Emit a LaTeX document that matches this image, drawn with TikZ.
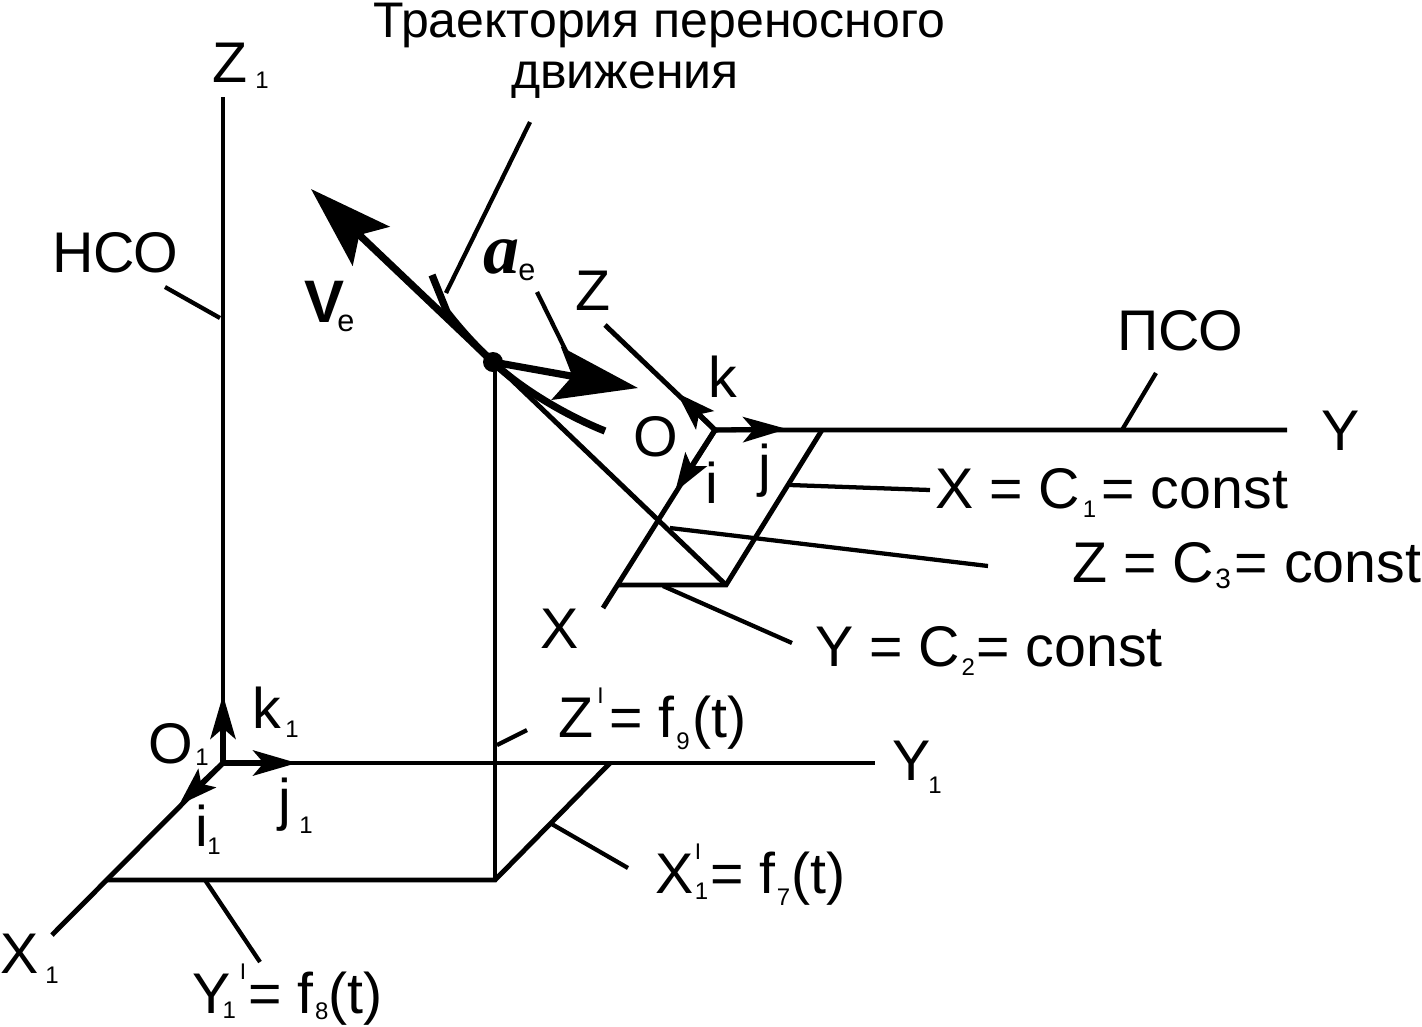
\documentclass[tikz,border=0pt]{standalone}
\usepackage{fontspec}
\setmainfont{Liberation Sans}
\newfontfamily\serifbi{Liberation Serif}
\usetikzlibrary{arrows.meta}
\newcommand{\Sb}[2][7pt]{\raisebox{-#1}{\fontsize{18}{18}\selectfont #2}}
\newcommand{\Pm}{\raisebox{25pt}{\fontsize{17}{17}\selectfont I}}
\tikzset{
  px/.style={x=0.75pt,y=-0.75pt},
  axis/.style={line width=3.7pt,line cap=butt,line join=miter},
  leader/.style={line width=3.2pt},
  big/.style={inner sep=0pt,anchor=base west,font=\fontsize{43}{43}\selectfont},
  captxt/.style={inner sep=0pt,anchor=base west,font=\fontsize{37.5}{37.5}\selectfont},
  sm/.style={inner sep=0pt,anchor=base west,font=\fontsize{18}{18}\selectfont},
  ee/.style={inner sep=0pt,anchor=base west,font=\fontsize{23}{23}\selectfont},
  unit/.style={-{Stealth[length=33pt,width=19pt,inset=8pt]},line width=3.8pt},
  uniths/.style={-{Stealth[length=29pt,width=19pt,inset=6pt]},line width=4pt},
  bigv/.style={-{Stealth[length=62pt,width=40pt,inset=12pt]},line width=5.4pt},
}
\begin{document}
\begin{tikzpicture}[px]
\useasboundingbox (0,0) rectangle (1422,1026);
% coordinates
\coordinate (O1) at (223,763);
\coordinate (Z1e) at (223,97);
\coordinate (Y1e) at (875,763);
\coordinate (X1e) at (52,935);
\coordinate (P1) at (107,880);
\coordinate (P2) at (495,880);
\coordinate (P3) at (610,763);
\coordinate (M) at (493,362);
\coordinate (Mv) at (495,362);
\coordinate (O) at (715,430);
\coordinate (Ye) at (1287,430);
\coordinate (Ze) at (605,325);
\coordinate (Xe) at (603,608);
\coordinate (Q1) at (822,430);
\coordinate (Q2) at (726,585);
\coordinate (Q3) at (618,585);
\coordinate (k1t) at (223,695);
\coordinate (j1t) at (297,763);
\coordinate (i1t) at (179,805);
\coordinate (kt) at (677,393);
\coordinate (it) at (675,492);
\coordinate (jt) at (787,429);
\coordinate (vt) at (311,189);
\coordinate (at) at (638,388);
% axes
\draw[axis] (Z1e) -- (O1) -- (Y1e);
\draw[axis] (O1) -- (X1e);
\draw[axis] (P1) -- (P2) -- (P3);
\draw[axis] (P2) -- (Mv);
\draw[axis] (Ze) -- (O) -- (Ye);
\draw[axis] (O) -- (Xe);
\draw[axis] (Q1) -- (Q2) -- (Q3);
\draw[axis] (Q2) -- (M);
% unit vectors
\draw[unit] (O1) -- (k1t);
\draw[unit] (O1) -- (j1t);
\draw[uniths] (O1) -- (i1t);
\draw[uniths] (O) -- (kt);
\draw[uniths] (O) -- (it);
\draw[unit] (O) -- (jt);
% trajectory
\coordinate (Ta) at (432,275);
\coordinate (Tb) at (605,431);
\draw[line width=5.5pt] (Ta) -- (447,312) .. controls (465,335) and (480,350) .. (M)
   .. controls (520,388) and (565,415) .. (Tb);
% velocity and acceleration
\draw[bigv] (M) -- (vt);
\draw[bigv] (M) -- (at);
\fill (M) circle (10);
% leaders
\coordinate (La) at (530,122); \coordinate (Lb) at (446,293);
\draw[leader] (La) -- (Lb);
\coordinate (Lc) at (537,292); \coordinate (Ld) at (568,355);
\draw[leader] (Lc) -- (Ld);
\coordinate (H1) at (165,287); \coordinate (H2) at (220,318);
\draw[leader] (H1) -- (H2);
\coordinate (S1) at (1122,430); \coordinate (S2) at (1156,373);
\draw[leader] (S1) -- (S2);
\coordinate (A1) at (790,485); \coordinate (A2) at (930,490);
\draw[leader] (A1) -- (A2);
\coordinate (B1) at (670,528); \coordinate (B2) at (988,566);
\draw[leader] (B1) -- (B2);
\coordinate (C1) at (663,586); \coordinate (C2) at (792,643);
\draw[leader] (C1) -- (C2);
\coordinate (D1) at (497,745); \coordinate (D2) at (527,730);
\draw[leader] (D1) -- (D2);
\coordinate (E1) at (550,823); \coordinate (E2) at (628,868);
\draw[leader] (E1) -- (E2);
\coordinate (F1) at (205,880); \coordinate (F2) at (260,962);
\draw[leader] (F1) -- (F2);
% texts
\node[captxt] (t1) at (373,37) {Траектория переносного};
\node[captxt] (t2) at (511,88) {движения};
\node[big] (tZ1) at (212,82) {Z};
\node[sm] (tZ1s) at (255,88) {1};
\node[big] (tNSO) at (52,272) {НСО};
\node[big] (tPSO) at (1117,350) {ПСО};
\node[big,font=\fontsize{45}{45}\selectfont] (tV) at (304,322) {\textbf{V}};
\node[ee] (tVe) at (337,331) {e};
\node[big,font=\fontsize{54}{54}\selectfont] (tA) at (483,273) {\serifbi\bfseries\itshape a};
\node[ee] (tAe) at (518,280) {e};
\node[big] (tZ) at (575,310) {Z};
\node[big] (tk) at (708,397) {k};
\node[big] (tO) at (633,456) {O};
\node[big] (ti) at (705,503) {i};
\node[big] (tj) at (758,485) {j};
\node[big] (tY) at (1321,450) {Y};
\node[big] (tX) at (540,648) {X};
\node[big] (tc1) at (935,508) {X = C\hspace{2pt}\Sb{1}\hspace{4pt}= const};
\node[big] (tc3) at (1072,582) {Z = C\hspace{1pt}\raisebox{-5pt}{\fontsize{21}{21}\selectfont 3}\hspace{3pt}= const};
\node[big] (tc2) at (815,666) {Y = C\hspace{1pt}\Sb{2}\hspace{1pt}= const};
\node[big] (tf9) at (558,737) {Z\hspace{3pt}\Pm\hspace{4.5pt}= f\hspace{1pt}\Sb[9pt]{9}\hspace{2pt}(t)};
\node[big] (tf7) at (655,893) {X\hspace{1pt}\rlap{\Pm}\Sb[5pt]{1}\hspace{1.5pt}= f\hspace{1pt}\Sb[9pt]{7}\hspace{1pt}(t)};
\node[big] (tf8) at (192,1013) {Y\hspace{-6pt}\Sb[4pt]{1}\hspace{3pt}\rlap{\Pm}\hspace{6.5pt}= f\hspace{1pt}\Sb[5pt]{8}\hspace{0pt}(t)};
\node[big] (tY1) at (892,780) {Y};
\node[sm] (tY1s) at (928,793) {1};
\node[big] (tk1) at (252,728) {k};
\node[sm] (tk1s) at (285,737) {1};
\node[big] (tO1) at (148,763) {O};
\node[sm] (tO1s) at (195,765) {1};
\node[big] (tj1) at (278,819) {j};
\node[sm] (tj1s) at (299,833) {1};
\node[big] (ti1) at (195,846) {i};
\node[sm] (ti1s) at (207,854) {1};
\node[big] (tX1) at (0,973) {X};
\node[sm] (tX1s) at (45,983) {1};
\end{tikzpicture}
\end{document}
